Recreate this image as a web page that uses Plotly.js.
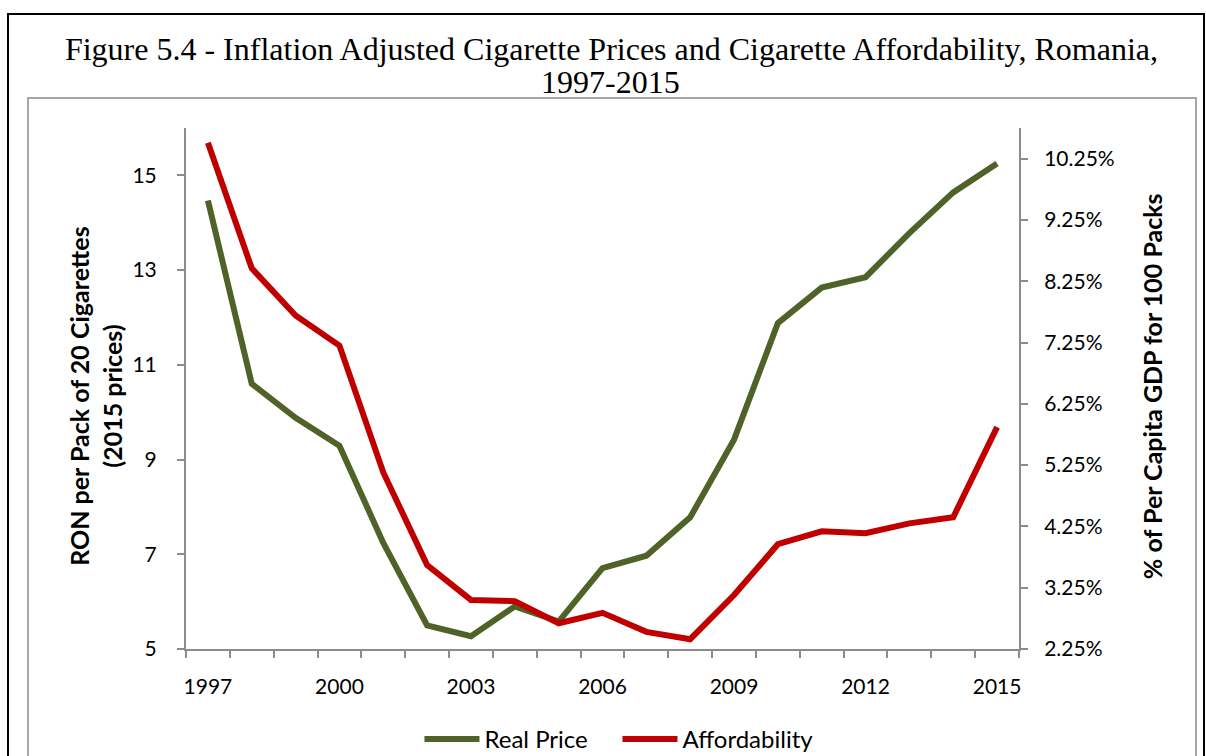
<!DOCTYPE html>
<html>
<head>
<meta charset="utf-8">
<script src="https://cdn.plot.ly/plotly-3.0.1.min.js"></script>
<style>
html,body{margin:0;padding:0;background:#fff;}
#chart{width:1206px;height:756px;}
</style>
</head>
<body>
<div id="chart"></div>
<script>
// ---- data ----
const years = [1997,1998,1999,2000,2001,2002,2003,2004,2005,2006,2007,2008,2009,2010,2011,2012,2013,2014,2015];
const realPrice = [14.47,10.6,9.88,9.29,7.24,5.5,5.27,5.9,5.58,6.71,6.97,7.78,9.42,11.88,12.63,12.85,13.78,14.64,15.25];
const affordability = [10.51,8.46,7.69,7.2,5.13,3.62,3.05,3.03,2.67,2.84,2.53,2.41,3.13,3.96,4.17,4.14,4.30,4.40,5.87];
const xTickYears = [1997,2000,2003,2006,2009,2012,2015];
const leftTicks = [5,7,9,11,13,15];
const rightTicks = [2.25,3.25,4.25,5.25,6.25,7.25,8.25,9.25,10.25];
const seriesNames = ["Real Price","Affordability"];
const titleLine1 = "Figure 5.4 - Inflation Adjusted Cigarette Prices and Cigarette Affordability, Romania,";
const titleLine2 = "1997-2015";
const leftTitle = "RON per Pack of 20 Cigarettes<br>(2015 prices)";
const rightTitle = "% of Per Capita GDP for 100 Packs";

const FONT = "Lato, 'Noto Sans', sans-serif";
const SERIF = "'Liberation Serif', 'Times New Roman', serif";
const AXC = "#8c8c8c";

const traces = [
  {x: years, y: realPrice, name: seriesNames[0], type: "scatter", mode: "lines",
   line: {color: "#4F6228", width: 6}, yaxis: "y"},
  {x: years, y: affordability, name: seriesNames[1], type: "scatter", mode: "lines",
   line: {color: "#C00000", width: 6}, yaxis: "y2"}
];

const layout = {
  width: 1206, height: 756,
  margin: {l: 186, r: 187, t: 128, b: 107},
  paper_bgcolor: "#fff", plot_bgcolor: "#fff",
  font: {family: FONT, size: 21, color: "#000"},
  showlegend: true,
  title: {text: titleLine1, font: {family: SERIF, size: 32, color: "#000"},
          xref: "container", x: 0.507, xanchor: "center", yref: "container", y: 0.936, yanchor: "middle"},
  xaxis: {
    range: [1996.5, 2015.5], tickvals: xTickYears, ticktext: xTickYears.map(String),
    ticks: "", showgrid: false, zeroline: false, showline: true, linecolor: AXC, linewidth: 2,
    ticklabelstandoff: 18, tickfont: {size: 21, family: FONT},
    minor: {tick0: 1996.5, dtick: 1, ticks: "outside", ticklen: 7, tickcolor: AXC, tickwidth: 2, showgrid: false}
  },
  yaxis: {
    range: [5, 16], tickvals: leftTicks, ticks: "outside", ticklen: 7, tickcolor: AXC, tickwidth: 2,
    showgrid: false, zeroline: false, showline: true, linecolor: AXC, linewidth: 2,
    ticklabelstandoff: 16, tickfont: {size: 21, family: FONT}
  },
  yaxis2: {
    range: [2.25, 10.75], tickvals: rightTicks, ticktext: rightTicks.map(v => v.toFixed(2) + "%"),
    overlaying: "y", side: "right", ticks: "outside", ticklen: 7, tickcolor: AXC, tickwidth: 2,
    showgrid: false, zeroline: false, showline: true, linecolor: AXC, linewidth: 2,
    ticklabelstandoff: 12, tickfont: {size: 21, family: FONT}
  },
  legend: {orientation: "h", xref: "container", x: 0.512, xanchor: "center",
           yref: "container", y: 0.022, yanchor: "middle",
           itemwidth: 55, entrywidth: 128, entrywidthmode: "pixels",
           font: {size: 24, family: FONT}, bgcolor: "rgba(0,0,0,0)"},
  annotations: [
    {text: titleLine2, xref: "paper", yref: "paper", x: 0.5102, y: 1.088,
     showarrow: false, xanchor: "center", yanchor: "middle",
     font: {size: 32, family: SERIF, color: "#000"}},
    {text: leftTitle, xref: "paper", yref: "paper", x: -0.108, y: 0.486, textangle: -90,
     showarrow: false, xanchor: "center", yanchor: "middle",
     font: {size: 25, family: FONT, weight: "bold"}},
    {text: rightTitle, xref: "paper", yref: "paper", x: 1.16, y: 0.505, textangle: -90,
     showarrow: false, xanchor: "center", yanchor: "middle",
     font: {size: 25, family: FONT, weight: "bold"}}
  ],
  shapes: [
    {type: "rect", xref: "paper", yref: "paper", x0: -0.2137, x1: 1.2221, y0: -0.25, y1: 1.2188,
     line: {color: "#000", width: 2}, layer: "below"},
    {type: "rect", xref: "paper", yref: "paper", x0: -0.1897, x1: 1.2125, y0: -0.27, y1: 1.0576,
     line: {color: "#a6a6a6", width: 2}, layer: "below"}
  ]
};

Plotly.newPlot("chart", traces, layout, {displayModeBar: false, staticPlot: true});
</script>
</body>
</html>
